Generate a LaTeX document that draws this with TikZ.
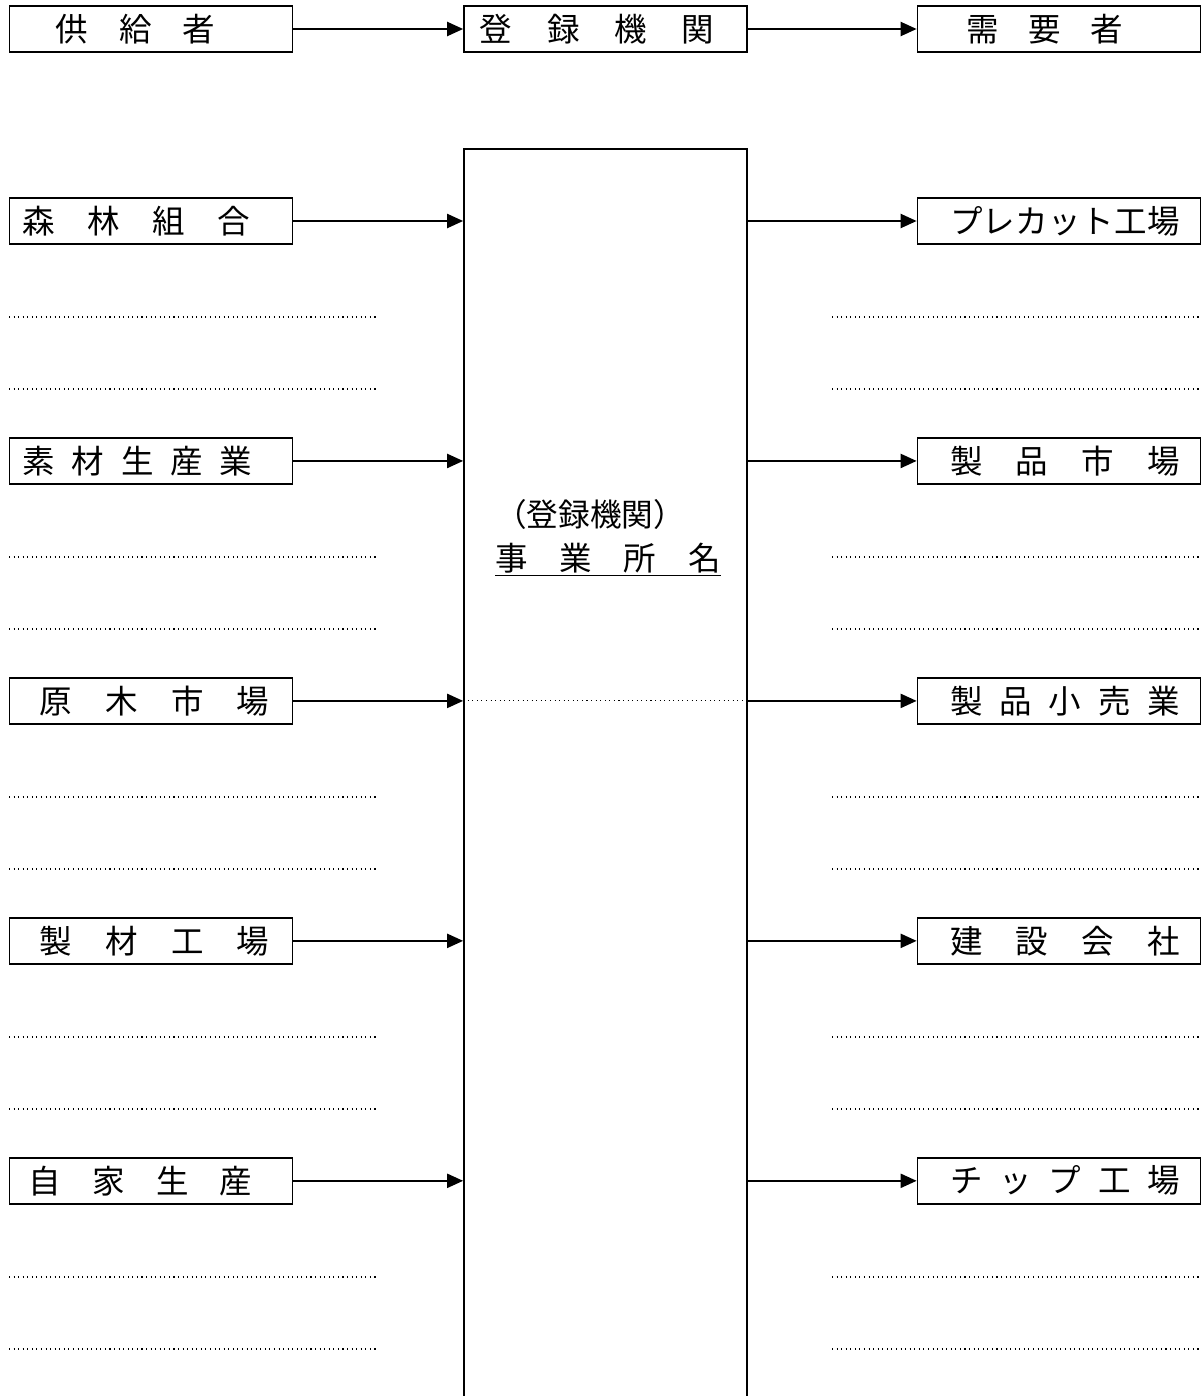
\documentclass[tikz,border=0pt]{standalone}
\usepackage{fontspec}
\setmainfont{Noto Sans CJK JP}
\usetikzlibrary{positioning,arrows.meta}

% spread the characters of a label over a fixed width, shifted by #1
\newcommand{\spread}[3]{\hspace*{#1}\makebox[#2]{#3}\hspace*{-#1}}

\begin{document}
\begin{tikzpicture}[x=0.02cm, y=-0.02cm, node distance=4.8cm]
        \tikzstyle{block} = [rectangle, draw, line width=1pt, minimum width=5.66cm, minimum height=0.92cm, inner sep=0pt, font=\fontsize{18.5}{18.5}\selectfont]
        \tikzstyle{office} = [rectangle, draw, line width=1pt, minimum width=5.66cm, minimum height=25.42cm, inner sep=0pt]
        \tikzstyle{line} = [draw, line width=1.2pt, -{Triangle[length=0.32cm,width=0.28cm]}]
        \tikzstyle{blank} = [draw, dotted, line width=0.6pt]

        \useasboundingbox (0,0) rectangle (1202,1396);

        % heading row
        \node [block] (supplier) at (151,29) {\spread{-0.31cm}{3.2cm}{供\hfill 給\hfill 者}};
        \node [block] (registry) at (605.5,29) {\spread{-0.17cm}{4.7cm}{登\hfill 録\hfill 機\hfill 関}};
        \node [block] (consumer) at (1059,29) {\spread{-0.29cm}{3.14cm}{需\hfill 要\hfill 者}};

        \path [line] (supplier) -- (registry);
        \path [line] (registry) -- (consumer);

        % registered office
        \node [office] (office) at (605.5,784.5) {};
        \node [font=\fontsize{18}{18}\selectfont] (office_head) at (590,514) {（登録機関）};
        \node [font=\fontsize{18.5}{18.5}\selectfont] (office_name) at (608,560) {\underline{\spread{0cm}{4.52cm}{事\hfill 業\hfill 所\hfill 名}}};

        % suppliers
        \node [block] (forest_coop) at (151,221) {\spread{-0.29cm}{4.56cm}{森\hfill 林\hfill 組\hfill 合}};
        \node [block, below of=forest_coop] (logging) {\spread{-0.27cm}{4.6cm}{素\hfill 材\hfill 生\hfill 産\hfill 業}};
        \node [block, below of=logging] (log_market) {\spread{0.07cm}{4.6cm}{原\hfill 木\hfill 市\hfill 場}};
        \node [block, below of=log_market] (sawmill) {\spread{0.07cm}{4.6cm}{製\hfill 材\hfill 工\hfill 場}};
        \node [block, below of=sawmill] (own_supply) {\spread{-0.21cm}{4.48cm}{自\hfill 家\hfill 生\hfill 産}};

        % customers
        \node [block] (precut) at (1059,221) {\spread{0.12cm}{4.6cm}{プ\hfill レ\hfill カ\hfill ッ\hfill ト\hfill 工\hfill 場}};
        \node [block, below of=precut] (product_market) {\spread{0.12cm}{4.6cm}{製\hfill 品\hfill 市\hfill 場}};
        \node [block, below of=product_market] (retail) {\spread{0.12cm}{4.6cm}{製\hfill 品\hfill 小\hfill 売\hfill 業}};
        \node [block, below of=retail] (builder) {\spread{0.12cm}{4.6cm}{建\hfill 設\hfill 会\hfill 社}};
        \node [block, below of=builder] (chip_mill) {\spread{0.12cm}{4.6cm}{チ\hfill ッ\hfill プ\hfill 工\hfill 場}};

        \foreach \src in {forest_coop, logging, log_market, sawmill, own_supply}
            \path [line] (\src) -- (office.west |- \src);
        \foreach \dst in {precut, product_market, retail, builder, chip_mill}
            \path [line] (office.east |- \dst) -- (\dst);

        \draw [blank] (office.west |- log_market) -- (office.east |- log_market);

        % blank lines for writing
        \foreach \r in {221,461,701,941,1181} {
            \draw [blank] (9,{\r+96}) -- (378,{\r+96});
            \draw [blank] (9,{\r+168}) -- (378,{\r+168});
            \draw [blank] (832,{\r+96}) -- (1200,{\r+96});
            \draw [blank] (832,{\r+168}) -- (1200,{\r+168});
        }

    \end{tikzpicture}
\end{document}
